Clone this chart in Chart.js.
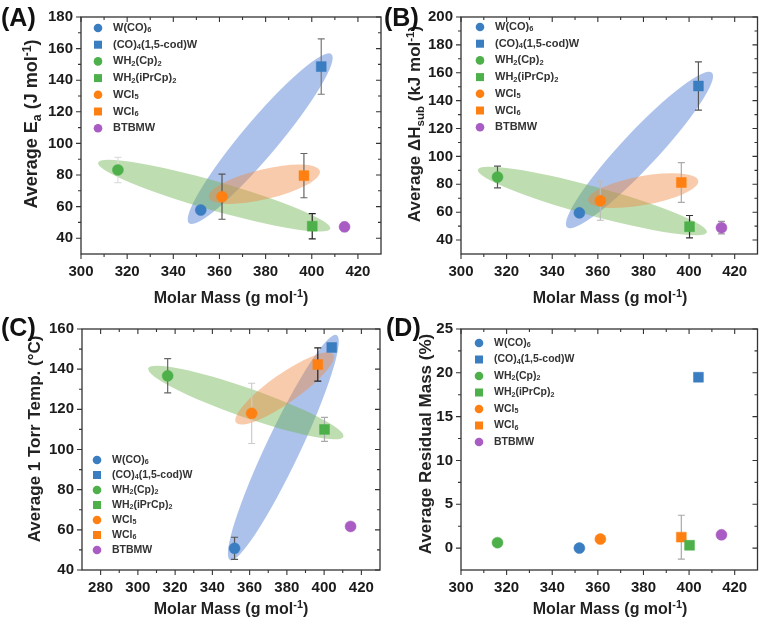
<!DOCTYPE html>
<html>
<head>
<meta charset="utf-8">
<script src="https://cdn.jsdelivr.net/npm/chart.js@4.4.0/dist/chart.umd.min.js"></script>
<style>
  html, body { margin: 0; padding: 0; background: #fff; }
  #wrap { position: relative; width: 765px; height: 626px; }
  #wrap canvas { position: absolute; left: 0; top: 0; }
</style>
</head>
<body>
<div id="wrap">
  <canvas id="cA" width="765" height="626"></canvas>
  <canvas id="cB" width="765" height="626"></canvas>
  <canvas id="cC" width="765" height="626"></canvas>
  <canvas id="cD" width="765" height="626"></canvas>
</div>
<script>
// Veriler (bileşikler ve molar kütleler)
const compounds = ['W(CO)_6', '(CO)_4(1,5-cod)W', 'WH_2(Cp)_2', 'WH_2(iPrCp)_2', 'WCl_5', 'WCl_6', 'BTBMW'];
const molarMass = [351.9, 404.1, 316.0, 400.2, 361.1, 396.6, 414.2];

// (A) Ea
const eaAvg = [57.8, 148.6, 83.2, 47.6, 66.3, 79.6, 47.2];
const eaErr = [0, 17.5, 8.0, 8.0, 14.3, 14.0, 3.0];
// (B) dH sub
const dhAvg = [59.5, 150.5, 85.2, 49.6, 68.2, 81.3, 48.9];
const dhErr = [0, 17.3, 7.8, 8.0, 14.0, 14.2, 4.5];
// (C) 1 Torr sıcaklığı
const torrAvg = [50.8, 150.8, 136.7, 110.0, 118.0, 142.3, 61.7];
const torrErr = [5.5, 0, 8.5, 6.0, 15.0, 8.3, 1.5];
// (D) kalıntı kütle
const residAvg = [0.0, 19.5, 0.62, 0.32, 1.03, 1.25, 1.52];
const residErr = [0, 0.3, 0, 0, 0, 2.5, 0.3];

// Elips ana eksenleri [x1, y1, x2, y2] (mavi, yeşil, turuncu)
const ellipsesA = [[346.8, 49.5, 408.5, 156.5], [307.4, 87.8, 408.0, 46.0], [355.4, 65.8, 403.5, 82.5]];
const ellipsesB = [[346.5, 49.2, 410.0, 160.0], [307.4, 90.5, 407.8, 45.6], [355.7, 68.4, 404.0, 82.6]];
const ellipsesC = [[349.5, 45.0, 406.7, 157.0], [305.6, 140.4, 410.3, 106.4], [352.7, 113.4, 404.9, 147.4]];

// Eksen etiketleri
const xTicksAB = [300, 320, 340, 360, 380, 400, 420];
const xTicksC = [280, 300, 320, 340, 360, 380, 400, 420];
const yTicksA = [40, 60, 80, 100, 120, 140, 160, 180];
const yTicksB = [40, 60, 80, 100, 120, 140, 160, 180, 200];
const yTicksC = [40, 60, 80, 100, 120, 140, 160];
const yTicksD = [0, 5, 10, 15, 20, 25];

// Stil
const FONT = '"Liberation Sans", Arial, sans-serif';
const markerColors = ['#3a7dc0', '#3a7dc0', '#4db04a', '#4db04a', '#ff8012', '#ff8012', '#a95cc3'];
const markerShapes = ['circle', 'rect', 'circle', 'rect', 'circle', 'rect', 'circle'];
const ellipseColors = ['rgba(70,120,210,0.45)', 'rgba(110,180,80,0.45)', 'rgba(240,140,70,0.45)'];
const Y_AXIS_W = 50, X_AXIS_H = 34;

const panels = [
  { id: 'cA', tag: '(A)', tagPos: [1, 26], area: { l: 81, t: 15, r: 381, b: 254 },
    xr: [300, 430], yr: [30, 180], xTicks: xTicksAB, yTicks: yTicksA,
    vals: eaAvg, errs: eaErr, ellipses: ellipsesA, halfW: [18, 14.5, 15],
    errColors: ['#888', '#777', '#ddd', '#222', '#555', '#666', '#ddd'],
    xTitle: 'Molar Mass (g mol^{-1})', xTitlePos: [231, 303],
    yTitle: 'Average E_a (J mol^{-1})', yTitlePos: [37, 124], yTitleSize: 18,
    legend: { x: 98, y: 28, dy: 16.7, size: 11 } },
  { id: 'cB', tag: '(B)', tagPos: [384, 26], area: { l: 461, t: 15, r: 760, b: 254 },
    xr: [300, 430], yr: [30, 200], xTicks: xTicksAB, yTicks: yTicksB,
    vals: dhAvg, errs: dhErr, ellipses: ellipsesB, halfW: [18, 14.5, 14.5],
    errColors: ['#888', '#555', '#555', '#333', '#bbb', '#aaa', '#999'],
    xTitle: 'Molar Mass (g mol^{-1})', xTitlePos: [610, 303],
    yTitle: 'Average \u0394H_{sub} (kJ mol^{-1})', yTitlePos: [420, 124], yTitleSize: 17,
    legend: { x: 480, y: 27, dy: 16.7, size: 11 } },
  { id: 'cC', tag: '(C)', tagPos: [1, 336], area: { l: 82, t: 329, r: 380, b: 570 },
    xr: [270, 430], yr: [40, 160], xTicks: xTicksC, yTicks: yTicksC,
    vals: torrAvg, errs: torrErr, ellipses: ellipsesC, halfW: [17, 14.5, 14.5],
    errColors: ['#555', '#888', '#666', '#aaa', '#ccc', '#222', '#555'],
    xTitle: 'Molar Mass (g mol^{-1})', xTitlePos: [231, 614],
    yTitle: 'Average 1 Torr Temp. (\u00B0C)', yTitlePos: [40, 439], yTitleSize: 17,
    legend: { x: 97, y: 460, dy: 15, size: 10.5 } },
  { id: 'cD', tag: '(D)', tagPos: [386, 336], area: { l: 461, t: 329, r: 760, b: 570 },
    xr: [300, 430], yr: [-2.5, 25], xTicks: xTicksAB, yTicks: yTicksD,
    vals: residAvg, errs: residErr, ellipses: [], halfW: [],
    errColors: ['#888', '#888', '#888', '#888', '#888', '#aaa', '#777'],
    xTitle: 'Molar Mass (g mol^{-1})', xTitlePos: [610, 614],
    yTitle: 'Average Residual Mass (%)', yTitlePos: [431, 444], yTitleSize: 17,
    legend: { x: 479, y: 343, dy: 16.5, size: 10.5 } }
];

// Alt/üst simge içeren metin
function parseRich(s) {
  const out = [];
  let i = 0;
  while (i < s.length) {
    const ch = s[i];
    if ((ch === '_' || ch === '^') && i + 1 < s.length) {
      let t;
      if (s[i + 1] === '{') { const j = s.indexOf('}', i); t = s.slice(i + 2, j); i = j + 1; }
      else { t = s[i + 1]; i += 2; }
      out.push({ t: t, mode: ch === '_' ? 'sub' : 'sup' });
    } else {
      let j = i;
      while (j < s.length && s[j] !== '_' && s[j] !== '^') j++;
      out.push({ t: s.slice(i, j), mode: 'n' });
      i = j;
    }
  }
  return out;
}

function drawRich(ctx, s, x, y, size, align) {
  const segs = parseRich(s);
  let w = 0;
  segs.forEach(g => {
    g.size = g.mode === 'n' ? size : size * 0.68;
    ctx.font = 'bold ' + g.size + 'px ' + FONT;
    g.w = ctx.measureText(g.t).width;
    w += g.w;
  });
  let cx = align === 'center' ? x - w / 2 : (align === 'right' ? x - w : x);
  ctx.textAlign = 'left';
  segs.forEach(g => {
    ctx.font = 'bold ' + g.size + 'px ' + FONT;
    const dy = g.mode === 'sub' ? size * 0.22 : (g.mode === 'sup' ? -size * 0.36 : 0);
    ctx.fillText(g.t, cx, y + dy);
    cx += g.w;
  });
}

function drawMarker(ctx, shape, x, y, r, color) {
  ctx.fillStyle = color;
  ctx.beginPath();
  if (shape === 'rect') ctx.rect(x - r, y - r, 2 * r, 2 * r);
  else ctx.arc(x, y, r, 0, Math.PI * 2);
  ctx.fill();
}

// Ara çentikler (ana çentiklerin ortası)
function minorTicks(ticks, min, max) {
  const step = ticks[1] - ticks[0];
  const res = [];
  for (let v = ticks[0] - step / 2; v < max; v += step) {
    if (v > min && v < max) res.push(v);
  }
  return res;
}

function makeDeco(p) {
  return {
    id: 'deco' + p.id,
    beforeDatasetsDraw(chart) {
      const ctx = chart.ctx, xs = chart.scales.x, ys = chart.scales.y, a = chart.chartArea;
      ctx.save();
      ctx.beginPath();
      ctx.rect(a.left, a.top, a.right - a.left, a.bottom - a.top);
      ctx.clip();
      // Elipsler
      p.ellipses.forEach((e, k) => {
        const x1 = xs.getPixelForValue(e[0]), y1 = ys.getPixelForValue(e[1]);
        const x2 = xs.getPixelForValue(e[2]), y2 = ys.getPixelForValue(e[3]);
        ctx.beginPath();
        ctx.ellipse((x1 + x2) / 2, (y1 + y2) / 2, Math.hypot(x2 - x1, y2 - y1) / 2, p.halfW[k],
          Math.atan2(y2 - y1, x2 - x1), 0, Math.PI * 2);
        ctx.fillStyle = ellipseColors[k];
        ctx.fill();
      });
      // Hata çubukları
      p.vals.forEach((v, i) => {
        const e = p.errs[i];
        if (!e) return;
        const x = xs.getPixelForValue(molarMass[i]);
        const yt = ys.getPixelForValue(v + e), yb = ys.getPixelForValue(v - e);
        ctx.strokeStyle = p.errColors[i];
        ctx.lineWidth = 1.2;
        ctx.beginPath();
        ctx.moveTo(x, yt); ctx.lineTo(x, yb);
        ctx.moveTo(x - 3.5, yt); ctx.lineTo(x + 3.5, yt);
        ctx.moveTo(x - 3.5, yb); ctx.lineTo(x + 3.5, yb);
        ctx.stroke();
      });
      ctx.restore();
    },
    afterDraw(chart) {
      const ctx = chart.ctx, xs = chart.scales.x, ys = chart.scales.y, a = chart.chartArea;
      ctx.save();
      // Çerçeve
      ctx.strokeStyle = '#333';
      ctx.lineWidth = 1.3;
      ctx.strokeRect(a.left, a.top, a.right - a.left, a.bottom - a.top);
      // Çentikler: sol/alt dışa, üst/sağ içe
      ctx.lineWidth = 1.1;
      ctx.beginPath();
      const xm = minorTicks(p.xTicks, p.xr[0], p.xr[1]);
      const ym = minorTicks(p.yTicks, p.yr[0], p.yr[1]);
      const tickX = (v, len) => {
        const px = xs.getPixelForValue(v);
        ctx.moveTo(px, a.bottom); ctx.lineTo(px, a.bottom + len);
        ctx.moveTo(px, a.top); ctx.lineTo(px, a.top + len);
      };
      const tickY = (v, len) => {
        const py = ys.getPixelForValue(v);
        ctx.moveTo(a.left, py); ctx.lineTo(a.left - len, py);
        ctx.moveTo(a.right, py); ctx.lineTo(a.right - len, py);
      };
      p.xTicks.forEach(v => tickX(v, 5));
      xm.forEach(v => tickX(v, 3));
      p.yTicks.forEach(v => tickY(v, 5));
      ym.forEach(v => tickY(v, 3));
      ctx.stroke();

      // Lejant
      const L = p.legend;
      ctx.textBaseline = 'middle';
      compounds.forEach((c, i) => {
        const y = L.y + i * L.dy;
        drawMarker(ctx, markerShapes[i], L.x, y, markerShapes[i] === 'rect' ? 4 : 4.3, markerColors[i]);
        ctx.fillStyle = '#333';
        drawRich(ctx, c, L.x + 15, y, L.size, 'left');
      });

      // Eksen başlıkları
      ctx.fillStyle = '#222';
      ctx.textBaseline = 'alphabetic';
      drawRich(ctx, p.xTitle, p.xTitlePos[0], p.xTitlePos[1], 16, 'center');
      ctx.save();
      ctx.translate(p.yTitlePos[0], p.yTitlePos[1]);
      ctx.rotate(-Math.PI / 2);
      drawRich(ctx, p.yTitle, 0, 0, p.yTitleSize, 'center');
      ctx.restore();

      // Panel harfi
      ctx.fillStyle = '#111';
      ctx.font = 'bold 25px ' + FONT;
      ctx.textAlign = 'left';
      ctx.fillText(p.tag, p.tagPos[0], p.tagPos[1]);
      ctx.restore();
    }
  };
}

function renderPanel(p) {
  const ctx = document.getElementById(p.id).getContext('2d');
  const tickFont = { family: FONT, size: 15, weight: 'bold' };
  new Chart(ctx, {
    type: 'scatter',
    data: {
      datasets: compounds.map((c, i) => ({
        label: c,
        data: [{ x: molarMass[i], y: p.vals[i] }],
        pointStyle: markerShapes[i],
        pointRadius: markerShapes[i] === 'rect' ? 7 : 5.5,
        backgroundColor: markerColors[i],
        borderColor: markerColors[i],
        borderWidth: 0.5
      }))
    },
    options: {
      responsive: false,
      animation: false,
      events: [],
      layout: { padding: {
        left: p.area.l - Y_AXIS_W, top: p.area.t,
        right: 765 - p.area.r, bottom: 626 - p.area.b - X_AXIS_H } },
      scales: {
        x: {
          type: 'linear', min: p.xr[0], max: p.xr[1],
          grid: { display: false, drawTicks: false },
          border: { display: false },
          afterFit: s => { s.height = X_AXIS_H; },
          afterBuildTicks: s => { s.ticks = p.xTicks.map(v => ({ value: v })); },
          ticks: { font: tickFont, color: '#1a1a1a', padding: 9, maxRotation: 0, autoSkip: false }
        },
        y: {
          type: 'linear', min: p.yr[0], max: p.yr[1],
          grid: { display: false, drawTicks: false },
          border: { display: false },
          afterFit: s => { s.width = Y_AXIS_W; },
          afterBuildTicks: s => { s.ticks = p.yTicks.map(v => ({ value: v })); },
          ticks: { font: tickFont, color: '#1a1a1a', padding: 8, autoSkip: false }
        }
      },
      plugins: { legend: { display: false }, tooltip: { enabled: false } }
    },
    plugins: [makeDeco(p)]
  });
}

panels.forEach(renderPanel);
</script>
</body>
</html>
